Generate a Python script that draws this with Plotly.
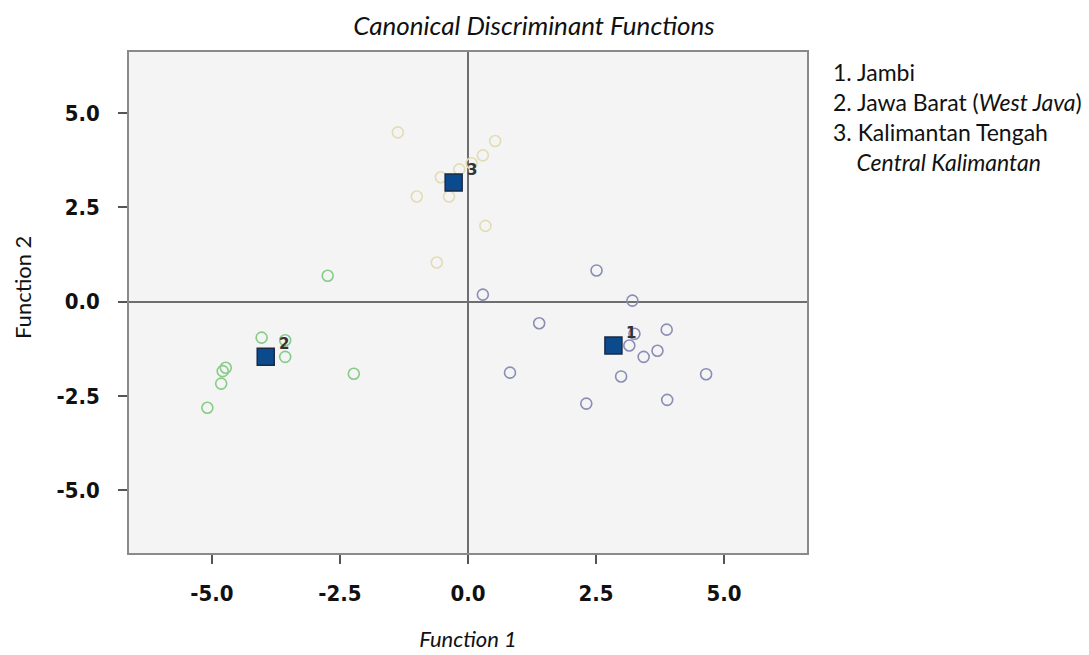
import plotly.graph_objects as go

# ---- data ----
group_names = ["1. Jambi", "2. Jawa Barat (<i>West Java</i>)", "3. Kalimantan Tengah", "<i>Central Kalimantan</i>"]

g1_x = [2.51, 0.29, 3.21, 1.39, 3.25, 3.88, 3.15, 3.70, 3.43, 0.82, 2.99, 4.65, 2.31, 3.89]
g1_y = [0.83, 0.19, 0.03, -0.57, -0.85, -0.74, -1.16, -1.30, -1.46, -1.88, -1.98, -1.92, -2.70, -2.60]

g2_x = [-2.74, -4.03, -3.57, -3.57, -4.73, -4.79, -4.82, -5.09, -2.23]
g2_y = [0.69, -0.95, -1.02, -1.46, -1.75, -1.84, -2.17, -2.81, -1.91]

g3_x = [-1.37, 0.53, 0.29, 0.07, -0.17, -0.53, -1.00, -0.37, 0.34, -0.61]
g3_y = [4.49, 4.26, 3.88, 3.67, 3.51, 3.30, 2.79, 2.79, 2.01, 1.04]

centroid_labels = ["1", "2", "3"]
centroid_x = [2.84, -3.95, -0.28]
centroid_y = [-1.16, -1.46, 3.16]

tick_vals = [-5.0, -2.5, 0.0, 2.5, 5.0]
tick_text = ["-5.0", "-2.5", "0.0", "2.5", "5.0"]

title_text = "<i>Canonical Discriminant Functions</i>"
x_title = "<i>Function 1</i>"
y_title = "Function 2"

# ---- figure ----
TXT = "Lato, Roboto, sans-serif"
L, R, T, B = 129, 282, 52, 102
PW, PH = 1089 - L - R, 655 - T - B

fig = go.Figure()

for xs, ys, col in [(g1_x, g1_y, "#8a8db4"), (g2_x, g2_y, "#86cc86"), (g3_x, g3_y, "#e2dcb4")]:
    fig.add_trace(go.Scatter(
        x=xs, y=ys, mode="markers",
        marker=dict(symbol="circle-open", size=11, color=col, line=dict(width=1.6, color=col)),
        showlegend=False, hoverinfo="x+y"))

fig.add_trace(go.Scatter(
    x=centroid_x, y=centroid_y, mode="markers",
    marker=dict(symbol="square", size=17, color="#0b4a8c", line=dict(width=1.5, color="#1a2a44")),
    showlegend=False))

for lab, cx, cy in zip(centroid_labels, centroid_x, centroid_y):
    fig.add_annotation(x=cx, y=cy, text=lab, showarrow=False, xshift=18, yshift=13,
                       font=dict(family="DejaVu Sans, sans-serif", size=15, color="#333333", weight="bold"))

# legend-like text block on the right (one multi-line text)
legend_lines = [group_names[0], group_names[1], group_names[2], "&nbsp;&nbsp;&nbsp;&nbsp;" + group_names[3]]
fig.add_annotation(xref="paper", yref="paper",
                   x=(831 - L) / PW, y=1 - (117 - T) / PH,
                   text="<br>".join(legend_lines), align="left",
                   showarrow=False, xanchor="left", yanchor="middle",
                   font=dict(family=TXT, size=23, color="#111111"))

# y-axis title as annotation (placed like the reference)
fig.add_annotation(xref="paper", yref="paper", x=(22 - L) / PW, y=1 - (288 - T) / PH,
                   text=y_title, textangle=-90, showarrow=False, xanchor="center", yanchor="middle",
                   font=dict(family=TXT, size=22, color="#111111"))

fig.update_layout(
    width=1089, height=655,
    margin=dict(l=L, r=R, t=T, b=B, autoexpand=False),
    paper_bgcolor="white", plot_bgcolor="#f4f4f4",
    title=dict(text=title_text, x=534 / 1089, xanchor="center", y=1 - 26 / 655, yanchor="middle",
               font=dict(family=TXT, size=26, color="#111111")),
    showlegend=False,
)

axis_common = dict(
    showgrid=False, zeroline=True, zerolinecolor="#6e6e6e", zerolinewidth=2,
    showline=True, mirror=True, linecolor="#8a8a8a", linewidth=1.5,
    ticks="outside", ticklen=9, tickwidth=2, tickcolor="#555555",
    tickvals=tick_vals, ticktext=tick_text, automargin=False,
    tickfont=dict(family="DejaVu Sans Condensed, sans-serif", size=22, color="#111111", weight="bold"),
)

fig.update_xaxes(range=[-6.62, 6.62], ticklabelstandoff=11,
                 title=dict(text=x_title, standoff=26, font=dict(family=TXT, size=22, color="#111111")),
                 **axis_common)
fig.update_yaxes(range=[-6.66, 6.62], ticklabelstandoff=14, **axis_common)

fig.write_html("out.html", config={"displayModeBar": False},
               post_script="document.body.style.margin='0';document.body.style.padding='0';")
